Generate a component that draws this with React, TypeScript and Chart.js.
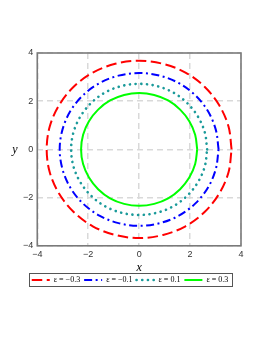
import { useEffect, useRef } from "react";
import { Chart, registerables } from "chart.js";

Chart.register(...registerables);

const seriesLabels = ["ε = −0.3", "ε = −0.1", "ε = 0.1", "ε = 0.3"];

// red, eps = -0.3 (points every 15 degrees, closed)
const redX = [3.63, 3.51, 3.14, 2.57, 1.82, 0.94, 0, -0.94, -1.82, -2.57, -3.14, -3.51, -3.63, -3.51, -3.14, -2.57, -1.82, -0.94, 0, 0.94, 1.82, 2.57, 3.14, 3.51, 3.63];
const redY = [0, 0.95, 1.84, 2.6, 3.19, 3.55, 3.68, 3.55, 3.19, 2.6, 1.84, 0.95, 0, -0.95, -1.84, -2.6, -3.19, -3.55, -3.68, -3.55, -3.19, -2.6, -1.84, -0.95, 0];

// blue, eps = -0.1
const blueX = [3.12, 3.01, 2.7, 2.21, 1.56, 0.81, 0, -0.81, -1.56, -2.21, -2.7, -3.01, -3.12, -3.01, -2.7, -2.21, -1.56, -0.81, 0, 0.81, 1.56, 2.21, 2.7, 3.01, 3.12];
const blueY = [0, 0.82, 1.59, 2.24, 2.75, 3.06, 3.17, 3.06, 2.75, 2.24, 1.59, 0.82, 0, -0.82, -1.59, -2.24, -2.75, -3.06, -3.17, -3.06, -2.75, -2.24, -1.59, -0.82, 0];

// teal, eps = 0.1
const tealX = [2.67, 2.58, 2.31, 1.89, 1.34, 0.69, 0, -0.69, -1.34, -1.89, -2.31, -2.58, -2.67, -2.58, -2.31, -1.89, -1.34, -0.69, 0, 0.69, 1.34, 1.89, 2.31, 2.58, 2.67];
const tealY = [0, 0.7, 1.36, 1.92, 2.36, 2.63, 2.72, 2.63, 2.36, 1.92, 1.36, 0.7, 0, -0.7, -1.36, -1.92, -2.36, -2.63, -2.72, -2.63, -2.36, -1.92, -1.36, -0.7, 0];

// green, eps = 0.3
const greenX = [2.28, 2.2, 1.97, 1.61, 1.14, 0.59, 0, -0.59, -1.14, -1.61, -1.97, -2.2, -2.28, -2.2, -1.97, -1.61, -1.14, -0.59, 0, 0.59, 1.14, 1.61, 1.97, 2.2, 2.28];
const greenY = [0, 0.61, 1.17, 1.65, 2.03, 2.26, 2.34, 2.26, 2.03, 1.65, 1.17, 0.61, 0, -0.61, -1.17, -1.65, -2.03, -2.26, -2.34, -2.26, -2.03, -1.65, -1.17, -0.61, 0];

const tickValues = [-4, -2, 0, 2, 4];
const tickLabels = ["−4", "−2", "0", "2", "4"];

const toPoints = (xs: number[], ys: number[]) => xs.map((x, i) => ({ x, y: ys[i] }));

const framePlugin = {
  id: "frameAndYTitle",
  afterDraw(chart: any) {
    const { ctx, chartArea } = chart;
    ctx.save();
    ctx.strokeStyle = "#7a7a7a";
    ctx.lineWidth = 1.6;
    ctx.setLineDash([]);
    ctx.strokeRect(chartArea.left, chartArea.top, chartArea.right - chartArea.left, chartArea.bottom - chartArea.top);
    // y title
    ctx.fillStyle = "#000";
    ctx.font = "italic 12px 'Liberation Serif'";
    ctx.textAlign = "center";
    ctx.textBaseline = "middle";
    ctx.fillText("y", 7, (chartArea.top + chartArea.bottom) / 2);
    // legend frame
    const boxes = chart.legend?.legendHitBoxes;
    if (boxes && boxes.length) {
      const first = boxes[0];
      const last = boxes[boxes.length - 1];
      const l = first.left - 3;
      const r = last.left + last.width + 3;
      const t = first.top - 3;
      const b = first.top + first.height + 2;
      ctx.strokeStyle = "#555";
      ctx.lineWidth = 1;
      ctx.strokeRect(Math.round(l) + 0.5, Math.round(t) + 0.5, Math.round(r - l), Math.round(b - t));
    }
    ctx.restore();
  },
};

export default function App() {
  const ref = useRef<HTMLCanvasElement | null>(null);
  useEffect(() => {
    if (!ref.current) return;
    const tickFont = { family: "'Liberation Sans'", size: 9 };
    const chart = new Chart(ref.current, {
      type: "scatter",
      data: {
        datasets: [
          {
            label: seriesLabels[0],
            data: toPoints(redX, redY),
            borderColor: "#ff0000",
            backgroundColor: "#ff0000",
            borderWidth: 2,
            borderDash: [10.5, 4.5],
          },
          {
            label: seriesLabels[1],
            data: toPoints(blueX, blueY),
            borderColor: "#0000ff",
            backgroundColor: "#0000ff",
            borderWidth: 2,
            borderDash: [8, 3.5, 2, 3.5],
          },
          {
            label: seriesLabels[2],
            data: toPoints(tealX, tealY),
            borderColor: "#1a9a9a",
            backgroundColor: "#1a9a9a",
            borderWidth: 2.6,
            borderDash: [0.1, 5.6],
            borderCapStyle: "round",
          },
          {
            label: seriesLabels[3],
            data: toPoints(greenX, greenY),
            borderColor: "#00ff00",
            backgroundColor: "#00ff00",
            borderWidth: 2,
          },
        ].map((d) => ({ ...d, showLine: true, pointRadius: 0, tension: 0.34, fill: false })) as any,
      },
      options: {
        animation: false,
        responsive: false,
        layout: { padding: { left: 11, right: 13, top: 45, bottom: 37 } },
        scales: {
          x: {
            type: "linear",
            min: -4,
            max: 4,
            afterBuildTicks: (axis: any) => {
              axis.ticks = tickValues.map((v) => ({ value: v }));
            },
            ticks: {
              callback: (v: any) => tickLabels[tickValues.indexOf(Number(v))] ?? "",
              font: tickFont,
              color: "#333",
              padding: 3,
              maxRotation: 0,
            },
            grid: { color: "#d9d9d9", lineWidth: 1.5, drawTicks: false },
            border: { display: false, dash: [6, 4] },
            title: {
              display: true,
              text: "x",
              color: "#000",
              font: { family: "'Liberation Serif'", size: 12, style: "italic" },
              padding: { top: -2, bottom: -3 },
            },
          },
          y: {
            type: "linear",
            min: -4,
            max: 4,
            afterBuildTicks: (axis: any) => {
              axis.ticks = tickValues.map((v) => ({ value: v }));
            },
            ticks: {
              callback: (v: any) => tickLabels[tickValues.indexOf(Number(v))] ?? "",
              font: tickFont,
              color: "#333",
              padding: 4,
            },
            grid: { color: "#d9d9d9", lineWidth: 1.5, drawTicks: false },
            border: { display: false, dash: [6, 4] },
          },
        },
        plugins: {
          tooltip: { enabled: false },
          legend: {
            position: "bottom",
            labels: {
              usePointStyle: true,
              pointStyle: "line",
              pointStyleWidth: 18,
              boxHeight: 8,
              padding: 4,
              color: "#000",
              font: { family: "'Liberation Serif'", size: 8 },
              generateLabels: (c: any) => {
                const items = (Chart.defaults.plugins.legend.labels as any).generateLabels(c);
                items.forEach((it: any) => {
                  const ds: any = c.data.datasets[it.datasetIndex];
                  it.lineDash = ds.borderDash || [];
                  it.lineCap = ds.borderCapStyle || "butt";
                  it.lineWidth = ds.borderWidth;
                  it.strokeStyle = ds.borderColor;
                  it.fillStyle = ds.borderColor;
                });
                return items;
              },
            },
          },
        },
      },
      plugins: [framePlugin],
    });
    return () => chart.destroy();
  }, []);
  return (
    <div style={{ width: 246, height: 323 }}>
      <canvas ref={ref} width={246} height={323} style={{ width: 246, height: 323 }} />
    </div>
  );
}
